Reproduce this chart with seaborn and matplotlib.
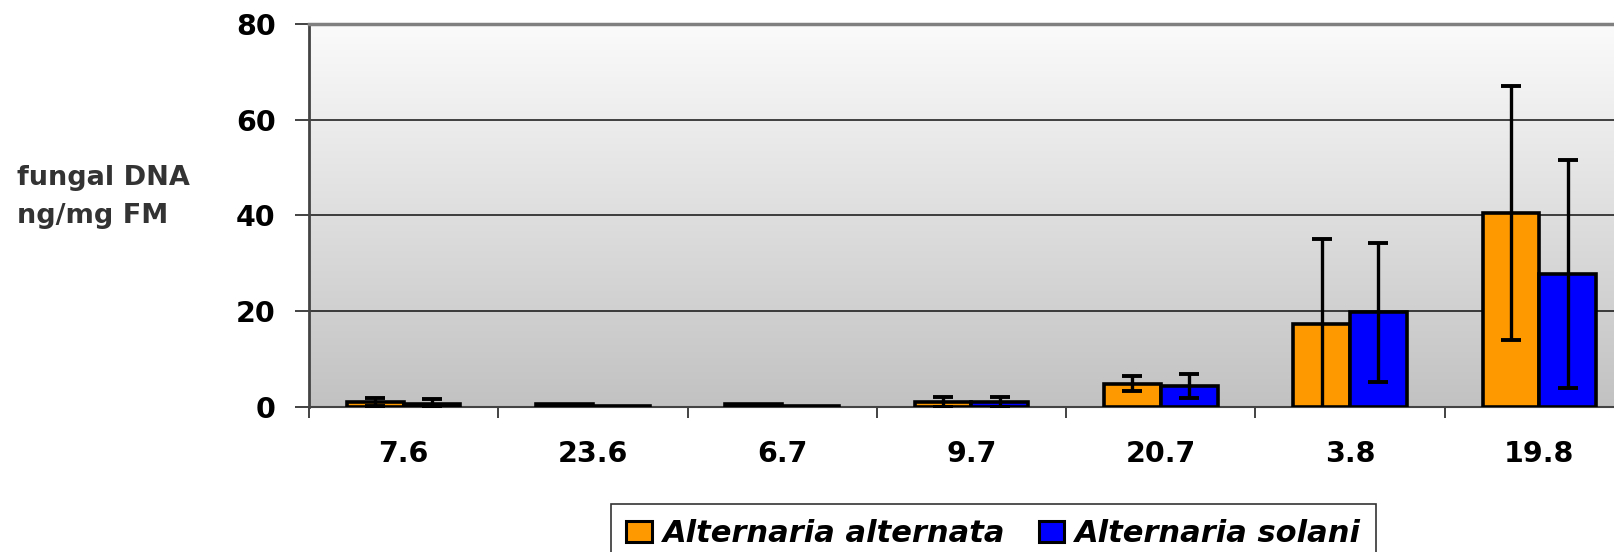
import numpy as np
import pandas as pd
import matplotlib
matplotlib.use("Agg")
import matplotlib.pyplot as plt
import seaborn as sns
from matplotlib.colors import LinearSegmentedColormap

categories = ["7.6", "23.6", "6.7", "9.7", "20.7", "3.8", "19.8"]
series_names = ["Alternaria alternata", "Alternaria solani"]
alternata = [0.9, 0.5, 0.5, 0.9, 4.8, 17.2, 40.5]
alternata_err = [0.8, 0.0, 0.0, 1.1, 1.6, 17.9, 26.6]
solani = [0.6, 0.1, 0.2, 0.9, 4.3, 19.7, 27.7]
solani_err = [0.9, 0.0, 0.0, 1.1, 2.5, 14.6, 23.9]
y_ticks = [0, 20, 40, 60, 80]
colors = ["#ff9900", "#0000ff"]

sns.set_theme(style="white")
plt.rcParams["font.family"] = ["DejaVu Sans"]

df = pd.DataFrame({
    "cat": categories * 2,
    "val": alternata + solani,
    "species": [series_names[0]] * len(categories) + [series_names[1]] * len(categories),
})

W, H = 1615, 552
fig = plt.figure(figsize=(W / 100, H / 100), dpi=100)
ax = fig.add_axes([309 / W, 1 - 406.5 / H, (1634 - 309) / W, (406.5 - 24) / H])

# gradient background
grad = LinearSegmentedColormap.from_list("g", ["#c2c2c2", "#fbfbfb"])
ax.imshow(np.linspace(0, 1, 256).reshape(-1, 1), cmap=grad, aspect="auto",
          extent=[-0.5, 6.5, 0, 80], origin="lower", zorder=0.1)

sns.barplot(data=df, x="cat", y="val", hue="species", order=categories,
            hue_order=series_names, palette=colors, saturation=1, width=0.6,
            edgecolor="black", linewidth=2.6, errorbar=None, ax=ax,
            zorder=3)

errs = [alternata_err, solani_err]
for cont, e in zip(ax.containers, errs):
    for patch, err in zip(cont.patches, e):
        if err > 0:
            xc = patch.get_x() + patch.get_width() / 2
            ax.errorbar(xc, patch.get_height(), yerr=err, fmt="none",
                        ecolor="black", elinewidth=2.4, capsize=7.2,
                        capthick=2.8, zorder=4, clip_on=True)

ax.set_xlim(-0.5, 6.5)
ax.set_ylim(0, 80)
ax.set_yticks(y_ticks)
ax.set_yticklabels([str(t) for t in y_ticks], fontsize=20.5, fontweight="bold",
                   color="black")
ax.tick_params(axis="y", direction="out", length=10, width=1.2, pad=14,
               left=True, color="#222222")
ax.set_xticks(range(len(categories)))
ax.set_xticklabels(categories, fontsize=20.5, fontweight="bold", color="black")
ax.tick_params(axis="x", which="major", length=0, pad=24)
ax.set_xticks(np.arange(-0.5, 7, 1), minor=True)
ax.tick_params(axis="x", which="minor", direction="out", length=8, width=1.2,
               color="#222222", bottom=True)

ax.set_axisbelow(True)
ax.yaxis.grid(True, color="#111111", linewidth=1.1)
ax.xaxis.grid(False)
ax.set_xlabel("")
ax.set_ylabel("")

ax.spines["right"].set_visible(False)
ax.spines["top"].set_color("#808080")
ax.spines["top"].set_linewidth(2.5)
ax.spines["left"].set_color("#444444")
ax.spines["left"].set_linewidth(2)
ax.spines["bottom"].set_color("#444444")
ax.spines["bottom"].set_linewidth(1.5)

# y-axis label as horizontal text
fig.text(17 / W, 1 - 185 / H, "fungal DNA", fontsize=19.5, fontweight="bold",
         color="#333333", ha="left", va="baseline")
fig.text(17 / W, 1 - 223 / H, "ng/mg FM", fontsize=19.5, fontweight="bold",
         color="#333333", ha="left", va="baseline")

handles, labels = ax.get_legend_handles_labels()
ax.legend_.remove()
leg = fig.legend(handles, labels, loc="upper left",
                 bbox_to_anchor=(611 / W, 1 - 504 / H), ncol=2,
                 frameon=True, fancybox=False, shadow=False,
                 prop={"size": 22, "weight": "bold", "style": "oblique"},
                 handlelength=0.83, handleheight=0.66, handletextpad=0.36,
                 columnspacing=1.1, borderpad=0.5, borderaxespad=0)
leg.get_frame().set_edgecolor("black")
leg.get_frame().set_linewidth(1.2)
for t in leg.get_texts():
    t.set_color("black")
for h in leg.legend_handles:
    h.set_edgecolor("black")
    h.set_linewidth(2.2)

fig.savefig("out.png", dpi=100)
